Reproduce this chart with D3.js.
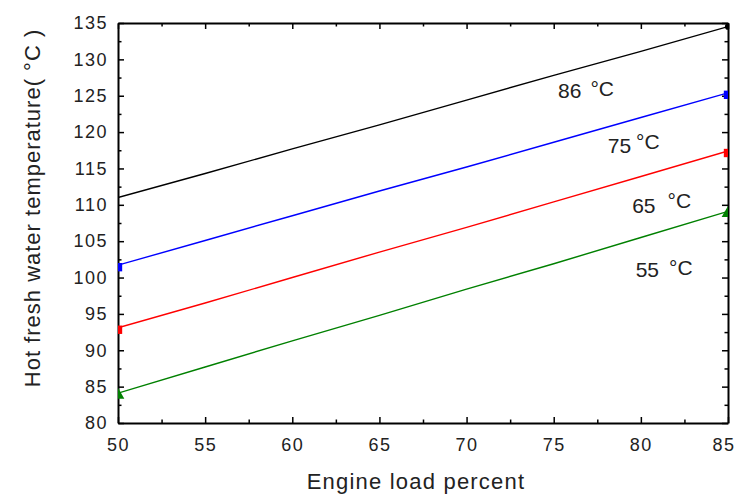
<!DOCTYPE html>
<html>
<head>
<meta charset="utf-8">
<script src="https://cdn.jsdelivr.net/npm/d3@7"></script>
<style>
  body { margin: 0; background: #fff; }
  svg { font-family: "Liberation Sans", Arial, sans-serif; }
</style>
</head>
<body>
<svg id="chart" width="736" height="498"></svg>
<script>
// data
const loads = [50, 55, 60, 65, 70, 75, 80, 85];
const t86 = [111.0, 114.3, 117.7, 121.0, 124.4, 127.8, 131.1, 134.5];
const t75 = [101.7, 105.1, 108.5, 111.9, 115.2, 118.6, 122.0, 125.4];
const t65 = [93.1, 96.5, 100.0, 103.5, 106.9, 110.4, 113.9, 117.4];
const t55 = [84.1, 87.7, 91.3, 94.8, 98.4, 101.9, 105.5, 109.1];
const seriesNum = ["86", "75", "65", "55"];
const seriesUnit = ["\u00b0C", "\u00b0C", "\u00b0C", "\u00b0C"];
const seriesColors = ["#000000", "#0000ff", "#ff0000", "#008000"];
const markerShapes = ["circle", "square", "square", "triangle"];
const xTicks = [50, 55, 60, 65, 70, 75, 80, 85];
const yTicks = [80, 85, 90, 95, 100, 105, 110, 115, 120, 125, 130, 135];

const svg = d3.select("#chart");
const margin = {left: 118, right: 8, top: 23, bottom: 75};
const width = 736 - margin.left - margin.right;
const height = 498 - margin.top - margin.bottom;

const x = d3.scaleLinear().domain([50, 85]).range([0, width]);
const y = d3.scaleLinear().domain([80, 135]).range([height, 0]);

const g = svg.append("g").attr("transform", `translate(${margin.left},${margin.top})`);

svg.append("defs").append("clipPath").attr("id", "clip")
  .append("rect").attr("width", width).attr("height", height);

// minor ticks every 2.5
const xMinor = d3.range(52.5, 85, 5);
const yMinor = d3.range(82.5, 135, 5);

function drawAxis(axisFn, scale, ticks, minor, transform, labels, pad) {
  const major = g.append("g").attr("transform", transform)
    .call(axisFn(scale).tickValues(ticks).tickSizeInner(-6).tickSizeOuter(0).tickPadding(pad || 0)
      .tickFormat(labels ? d3.format("d") : ""));
  major.select(".domain").attr("stroke", "#000").attr("stroke-width", 2);
  major.selectAll(".tick line").attr("stroke", "#000").attr("stroke-width", 1.5);
  major.selectAll("text").attr("font-size", 18).attr("fill", "#222")
    .attr("letter-spacing", 1.5).attr("font-family", "Liberation Sans, Arial, sans-serif");
  const mn = g.append("g").attr("transform", transform)
    .call(axisFn(scale).tickValues(minor).tickSizeInner(-3.5).tickSizeOuter(0).tickFormat(""));
  mn.select(".domain").remove();
  mn.selectAll(".tick line").attr("stroke", "#000").attr("stroke-width", 1.5);
  return major;
}

const xAx = drawAxis(d3.axisBottom, x, xTicks, xMinor, `translate(0,${height})`, true, 15);
// last label sits against the right edge of the page
xAx.selectAll(".tick text").filter(d => d === 85).attr("text-anchor", "end").attr("dx", 7);
drawAxis(d3.axisTop, x, xTicks, xMinor, "translate(0,0)", false);
drawAxis(d3.axisLeft, y, yTicks, yMinor, "translate(0,0)", true, 10);
drawAxis(d3.axisRight, y, yTicks, yMinor, `translate(${width},0)`, false);

// lines
const allSeries = [t86, t75, t65, t55];
const line = d3.line().x((d, i) => x(loads[i])).y(d => y(d));
const plot = g.append("g").attr("clip-path", "url(#clip)");

allSeries.forEach((vals, k) => {
  plot.append("path").datum(vals)
    .attr("fill", "none")
    .attr("stroke", seriesColors[k])
    .attr("stroke-width", 1.4)
    .attr("d", line);
  [0, vals.length - 1].forEach(i => {
    const shape = markerShapes[k];
    if (shape === "circle" && i === 0) return;
    const sym = shape === "circle" ? d3.symbolCircle :
      shape === "triangle" ? d3.symbolTriangle : d3.symbolSquare;
    plot.append("path")
      .attr("transform", `translate(${x(loads[i])},${y(vals[i]) + (shape === "circle" ? 0 : 2)})`)
      .attr("d", d3.symbol().type(sym).size(shape === "circle" ? 30 : 70))
      .attr("fill", seriesColors[k]);
  });
});

// curve labels (load, temperature at the label baseline)
const labelPos = [[75.25, 124.7], [78.1, 117.1], [79.5, 108.9], [79.7, 100.1]];
const unitGap = [9, 5, 12, 10];
const unitRise = [2, 4, 5, 2];
seriesNum.forEach((num, k) => {
  const t = g.append("text")
    .attr("x", x(labelPos[k][0]))
    .attr("y", y(labelPos[k][1]))
    .attr("font-size", 21)
    .attr("fill", "#222");
  t.append("tspan").text(num);
  t.append("tspan").attr("dx", unitGap[k]).attr("dy", -unitRise[k]).text(seriesUnit[k]);
});

// axis titles
svg.append("text")
  .attr("x", 416)
  .attr("y", 489)
  .attr("text-anchor", "middle")
  .attr("font-size", 22)
  .attr("letter-spacing", 1.2)
  .attr("fill", "#222")
  .text("Engine load percent");

svg.append("text")
  .attr("transform", "translate(40,208) rotate(-90)")
  .attr("text-anchor", "middle")
  .attr("font-size", 22)
  .attr("letter-spacing", 1)
  .attr("fill", "#222")
  .text("Hot fresh water temperature( \u00b0C )");
</script>
</body>
</html>
